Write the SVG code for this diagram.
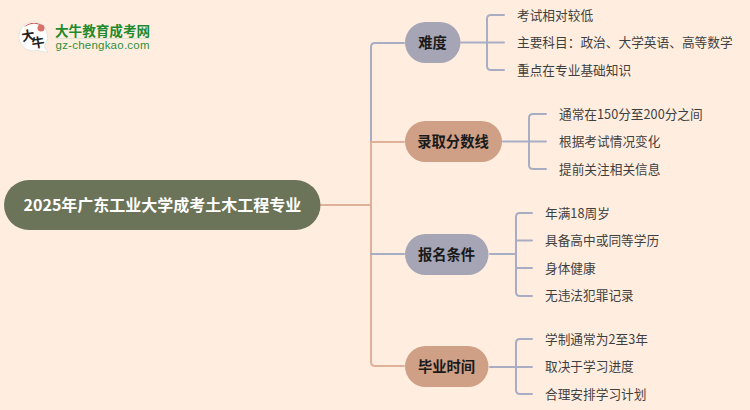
<svg xmlns="http://www.w3.org/2000/svg" width="750" height="410" viewBox="0 0 750 410">
<style>
text{font-family:"Noto Sans CJK SC","Noto Sans",sans-serif}
.c{fill:none;stroke-width:2;stroke-linecap:round}
.l{stroke:#a9adc4}
.o{stroke:#e0b098}
.n{font-size:14.300px;font-weight:700;fill:#1a1a1a;text-anchor:middle;dominant-baseline:central}
.t{font-size:12.700px;fill:#3f3f3f;dominant-baseline:central}
.p1{fill:#a5a5b5}
.p2{fill:#cf9f86}
</style>
<rect width="750" height="410" fill="#ffeee0"/>
<g id="connectors">
<path class="c o" d="M321 205H371"/>
<path class="c l" d="M371 142V47Q371 43 375 43H404"/>
<path class="c o" d="M371 142H404"/>
<path class="c o" d="M371 142V362Q371 366 375 366H404"/>
<path class="c l" d="M371 254H404"/>
<path class="c l" d="M461 42.500H504M504 15H491Q487 15 487 19V66Q487 70 491 70H504"/>
<path class="c l" d="M503 141.500H546M546 114H533Q529 114 529 118V165Q529 169 533 169H546"/>
<path class="c l" d="M490 254H515.500M532 213H520Q516 213 516 217V292Q516 296 520 296H532M516 240.500H532M516 268H532"/>
<path class="c l" d="M490 367H532M532 339H520Q516 339 516 343V390Q516 394 520 394H532"/>
</g>
<g id="logo">
<path d="M34 22A14.500 14.500 0 1 0 37 50.500L48 52.500L44 46A14.500 14.500 0 0 0 34 22Z" fill="#fff" stroke="#e4e4dc"/>
<path d="M24 27A14.500 14.500 0 0 1 44 27Q34 20 24 27Z" fill="#c8201c"/>
<circle cx="41" cy="28" r="3.500" fill="#d9716b"/>
<text x="28" y="35" font-size="13" font-weight="700" fill="#222" text-anchor="middle" dominant-baseline="central" transform="rotate(-8 28 35)">大</text>
<text x="38" y="42" font-size="13" font-weight="700" fill="#222" text-anchor="middle" dominant-baseline="central" transform="rotate(-8 38 42)">牛</text>
<text x="55" y="29.500" font-size="13.600" font-weight="700" fill="#1f8a2e" dominant-baseline="central">大牛教育成考网</text>
<rect x="55" y="38" width="95" height="1" fill="#dfe3d0"/>
<text x="55.500" y="44.500" font-size="11.500" fill="#2f8f3c" textLength="94" dominant-baseline="central" style="font-family:'Liberation Sans',sans-serif">gz-chengkao.com</text>
</g>
<g id="root">
<rect x="4" y="180" width="316.500" height="50" rx="25" fill="#6b7359"/>
<text x="162.500" y="203.500" font-size="16" font-weight="700" fill="#fff" text-anchor="middle" dominant-baseline="central">2025年广东工业大学成考土木工程专业</text>
</g>
<g id="n1">
<rect class="p1" x="405" y="22" width="55.500" height="41" rx="20.500"/>
<text class="n" x="432.500" y="41.500">难度</text>
</g>
<g id="n1a"><text class="t" x="517" y="14">考试相对较低</text></g>
<g id="n1b"><text class="t" x="517" y="41.500">主要科目：政治、大学英语、高等数学</text></g>
<g id="n1c"><text class="t" x="517" y="69">重点在专业基础知识</text></g>
<g id="n2">
<rect class="p2" x="405" y="121" width="97" height="41" rx="20.500"/>
<text class="n" x="453" y="140.500">录取分数线</text>
</g>
<g id="n2a"><text class="t" x="559" y="113">通常在150分至200分之间</text></g>
<g id="n2b"><text class="t" x="559" y="140.500">根据考试情况变化</text></g>
<g id="n2c"><text class="t" x="559" y="168">提前关注相关信息</text></g>
<g id="n3">
<rect class="p1" x="405" y="234" width="83.500" height="41" rx="20.500"/>
<text class="n" x="446.500" y="253.500">报名条件</text>
</g>
<g id="n3a"><text class="t" x="545" y="212">年满18周岁</text></g>
<g id="n3b"><text class="t" x="545" y="239.500">具备高中或同等学历</text></g>
<g id="n3c"><text class="t" x="545" y="267">身体健康</text></g>
<g id="n3d"><text class="t" x="545" y="294.500">无违法犯罪记录</text></g>
<g id="n4">
<rect class="p2" x="405" y="346" width="83.500" height="41" rx="20.500"/>
<text class="n" x="446.500" y="365.500">毕业时间</text>
</g>
<g id="n4a"><text class="t" x="545" y="338">学制通常为2至3年</text></g>
<g id="n4b"><text class="t" x="545" y="365.500">取决于学习进度</text></g>
<g id="n4c"><text class="t" x="545" y="393">合理安排学习计划</text></g>
</svg>
